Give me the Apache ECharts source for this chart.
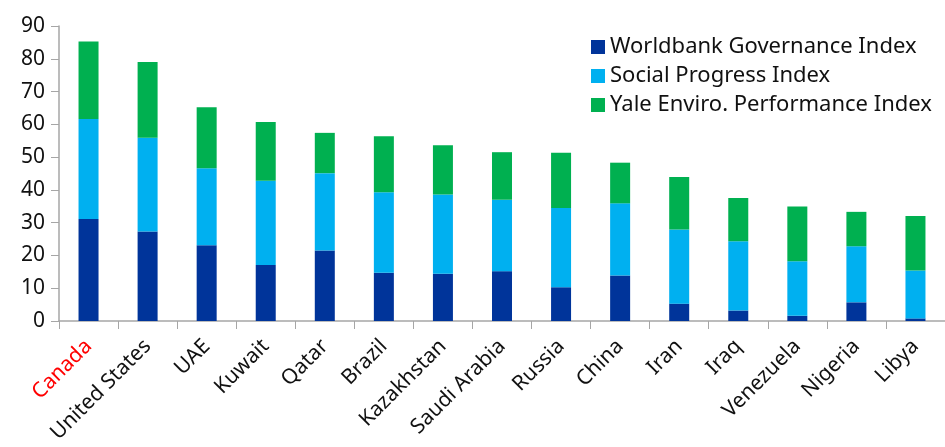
<!DOCTYPE html>
<html><head><meta charset="utf-8">
<script src="https://cdn.jsdelivr.net/npm/echarts@6/dist/echarts.min.js"></script>
<style>html,body{margin:0;padding:0;background:#fff}#c{width:945px;height:447px}</style>
</head><body><div id="c"></div>
<script>
const categories = ["Canada","United States","UAE","Kuwait","Qatar","Brazil","Kazakhstan","Saudi Arabia","Russia","China","Iran","Iraq","Venezuela","Nigeria","Libya"];
const worldbank = [31.1,27.3,23.1,17.1,21.5,14.7,14.4,15.2,10.3,13.9,5.3,3.2,1.6,5.7,0.8];
const social = [30.5,28.6,23.5,25.7,23.6,24.6,24.2,21.8,24.2,22.0,22.6,21.1,16.6,17.1,14.6];
const yale = [23.7,23.1,18.6,17.9,12.3,17.1,15.0,14.5,16.8,12.4,16.0,13.2,16.7,10.5,16.6];
const yTicks = [0,10,20,30,40,50,60,70,80,90];

const FONT = '"Noto Sans", sans-serif';
const chart = echarts.init(document.getElementById('c'));
const mk = (name, data, color) => ({
  name, type: 'bar', stack: 'total', data, barWidth: 20,
  itemStyle: { color }
});
chart.setOption({
  animation: false,
  textStyle: { fontFamily: FONT },
  grid: { left: 59, top: 26, bottom: 126, width: 896 },
  legend: {
    orient: 'vertical', left: 591, top: 36, padding: 0,
    itemWidth: 14, itemHeight: 14, itemGap: 7, itemTextGap: 7,
    icon: 'rect',
    textStyle: { fontSize: 22, lineHeight: 22, color: '#111', fontFamily: FONT },
    data: ['Worldbank Governance Index','Social Progress Index','Yale Enviro. Performance Index']
  },
  xAxis: {
    type: 'category', data: categories,
    axisLine: { lineStyle: { color: '#a6a6a6', width: 1.5 } },
    axisTick: { show: true, length: 8, lineStyle: { color: '#a6a6a6' } },
    axisLabel: {
      rotate: 45, fontSize: 21, margin: 22, interval: 0,
      color: (v) => v === 'Canada' ? '#ff0000' : '#111'
    }
  },
  yAxis: {
    type: 'value', min: yTicks[0], max: yTicks[yTicks.length-1], interval: 10,
    splitLine: { show: false },
    axisLine: { show: true, lineStyle: { color: '#a6a6a6', width: 1.5 } },
    axisTick: { show: true, length: 8, lineStyle: { color: '#a6a6a6' } },
    axisLabel: { fontSize: 21, color: '#111', margin: 14 }
  },
  series: [
    mk('Worldbank Governance Index', worldbank, '#00349a'),
    mk('Social Progress Index', social, '#00b0f0'),
    mk('Yale Enviro. Performance Index', yale, '#00b050')
  ]
});
</script></body></html>
